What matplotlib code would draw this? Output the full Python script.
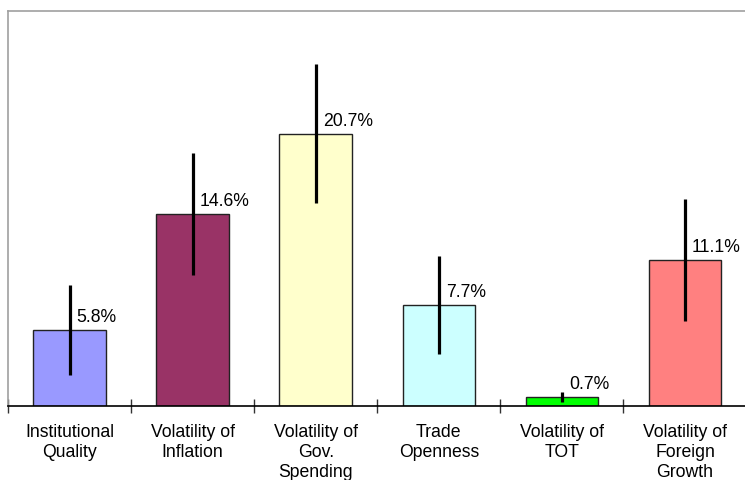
import matplotlib
matplotlib.use("Agg")
import matplotlib.pyplot as plt
import numpy as np

categories = ["Institutional\nQuality", "Volatility of\nInflation", "Volatility of\nGov.\nSpending",
              "Trade\nOpenness", "Volatility of\nTOT", "Volatility of\nForeign\nGrowth"]
values = [5.8, 14.6, 20.7, 7.7, 0.7, 11.1]
errors = [3.4, 4.65, 5.3, 3.7, 0.38, 4.65]
colors = ["#9999FF", "#993366", "#FFFFCC", "#CCFFFF", "#00FF00", "#FF8080"]

plt.rcParams['font.family'] = ['Liberation Sans', 'DejaVu Sans']

fig = plt.figure(figsize=(7.45, 4.81), dpi=100)
ax = fig.add_axes([0.0107, 0.1532, 0.9914, 0.8218])

x = np.arange(len(values))
ax.bar(x, values, width=0.59, color=colors, edgecolor="#222222", linewidth=1.0, zorder=2)
ax.errorbar(x, values, yerr=errors, fmt="none", ecolor="black", elinewidth=2.3, capsize=0, zorder=3)

for xi, v in zip(x, values):
    ax.annotate(f"{v:.1f}%", (xi, v), xytext=(7, 9), textcoords="offset pixels",
                ha="left", va="baseline", fontsize=12.7, color="black", zorder=4)

ax.set_xlim(-0.5, len(values) - 0.5)
ax.set_ylim(0, 30)

# boundaries get the tick marks, centres get the labels
ax.set_xticks(np.arange(len(values) + 1) - 0.5)
ax.set_xticklabels([])
ax.tick_params(axis="x", which="major", direction="inout", length=10, width=1.0, color="#333333")
ax.set_xticks(x, minor=True)
ax.set_xticklabels(categories, minor=True, fontsize=12.7, color="black", linespacing=1.22)
ax.tick_params(axis="x", which="minor", length=0, pad=12)
ax.set_yticks([])

for side in ["left", "top", "right"]:
    ax.spines[side].set_color("#a0a0a0")
    ax.spines[side].set_linewidth(1.2)
ax.spines["bottom"].set_color("black")
ax.spines["bottom"].set_linewidth(1.2)

fig.savefig("out.png", dpi=100)
